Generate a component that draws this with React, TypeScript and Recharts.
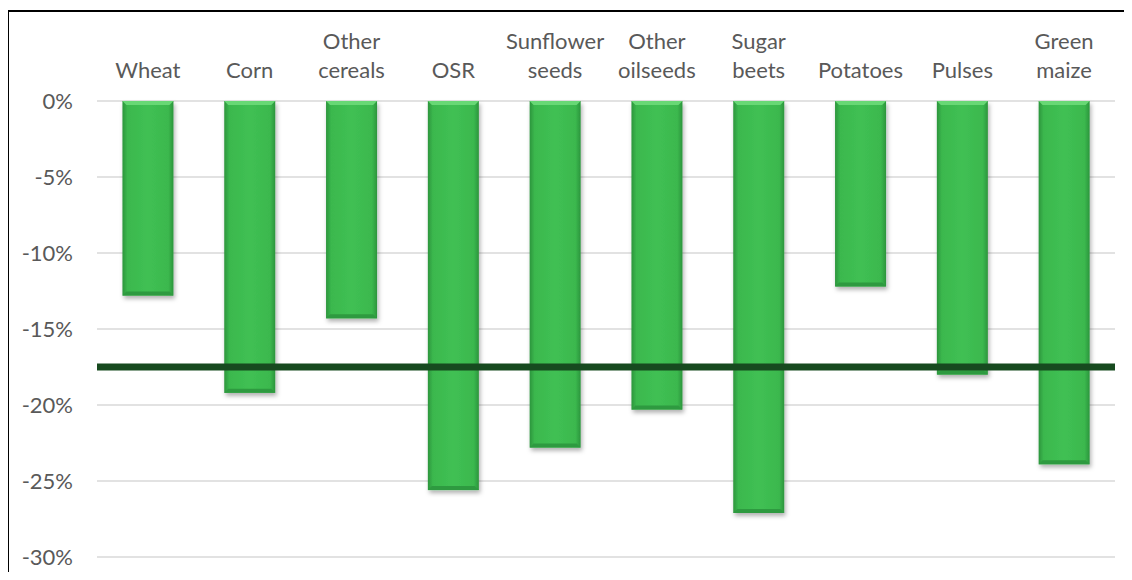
import React from "react";
import {
  Bar,
  BarChart,
  CartesianGrid,
  ReferenceLine,
  XAxis,
  YAxis,
} from "recharts";

const crops = [
  "Wheat",
  "Corn",
  "Other cereals",
  "OSR",
  "Sunflower seeds",
  "Other oilseeds",
  "Sugar beets",
  "Potatoes",
  "Pulses",
  "Green maize",
];
const changes = [-12.8, -19.2, -14.3, -25.6, -22.8, -20.3, -27.1, -12.2, -18.0, -23.9];
const average = -17.5;
const yTicks = [0, -5, -10, -15, -20, -25, -30];

const data = crops.map((name, i) => ({ name, value: changes[i] }));

const FONT = "Lato, 'Open Sans', sans-serif";
const GREY = "#595959";

const CropTick = (props: any) => {
  const { x, y, payload } = props;
  const lines = String(payload.value).split(" ");
  const last = y - 23;
  return (
    <text textAnchor="middle" fill={GREY} fontSize={22} fontFamily={FONT}>
      {lines.map((l, i) => (
        <tspan key={i} x={x} y={last - (lines.length - 1 - i) * 29}>
          {l}
        </tspan>
      ))}
    </text>
  );
};

const BevelBar = (props: any) => {
  const { x, y, width, height } = props;
  const top = height < 0 ? y + height : y;
  const h = Math.abs(height);
  const b = 4;
  return (
    <g filter="url(#barShadow)">
      <rect x={x} y={top} width={width} height={h} fill="url(#barFill)" />
      <polygon
        points={`${x},${top} ${x + width},${top} ${x + width - b},${top + b} ${x + b},${top + b}`}
        fill="#68d875"
      />
      <polygon
        points={`${x},${top + h} ${x + width},${top + h} ${x + width - b},${top + h - b} ${x + b},${top + h - b}`}
        fill="#2f9a3f"
      />
    </g>
  );
};

export default function App() {
  return (
    <div style={{ position: "relative", width: 1132, height: 580, margin: -8 }}>
      <div
        style={{
          position: "absolute",
          left: 7,
          top: 10,
          width: 1123,
          height: 568,
          borderLeft: "2px solid #000",
          borderTop: "2px solid #000",
        }}
      />
      <div style={{ position: "absolute", left: 0, top: 0 }}>
        <BarChart
          width={1132}
          height={580}
          data={data}
          margin={{ top: 0, right: 17, left: 0, bottom: 23 }}
          barCategoryGap="25%"
        >
          <defs>
            <linearGradient id="barFill" x1="0" y1="0" x2="1" y2="0">
              <stop offset="0%" stopColor="#2c953c" />
              <stop offset="10%" stopColor="#3bb84e" />
              <stop offset="50%" stopColor="#40c053" />
              <stop offset="90%" stopColor="#3bb84e" />
              <stop offset="100%" stopColor="#2c953c" />
            </linearGradient>
            <filter id="barShadow" x="-20%" y="-5%" width="140%" height="115%">
              <feDropShadow dx="1.5" dy="3" stdDeviation="2" floodColor="#000" floodOpacity="0.3" />
            </filter>
          </defs>
          <CartesianGrid vertical={false} stroke="#d9d9d9" strokeWidth={1.5} />
          <XAxis
            dataKey="name"
            orientation="top"
            height={101}
            axisLine={false}
            tickLine={false}
            tickSize={0}
            tickMargin={0}
            interval={0}
            tick={<CropTick />}
          />
          <YAxis
            domain={[-30, 0]}
            ticks={yTicks}
            width={97}
            axisLine={false}
            tickLine={false}
            tickSize={0}
            tickMargin={24}
            tickFormatter={(v: number) => `${v}%`}
            tick={{ fill: GREY, fontSize: 22, fontFamily: FONT }}
          />
          <Bar dataKey="value" shape={<BevelBar />} isAnimationActive={false} />
          <ReferenceLine y={average} stroke="#174a1f" strokeWidth={7} ifOverflow="hidden" />
        </BarChart>
      </div>
    </div>
  );
}
